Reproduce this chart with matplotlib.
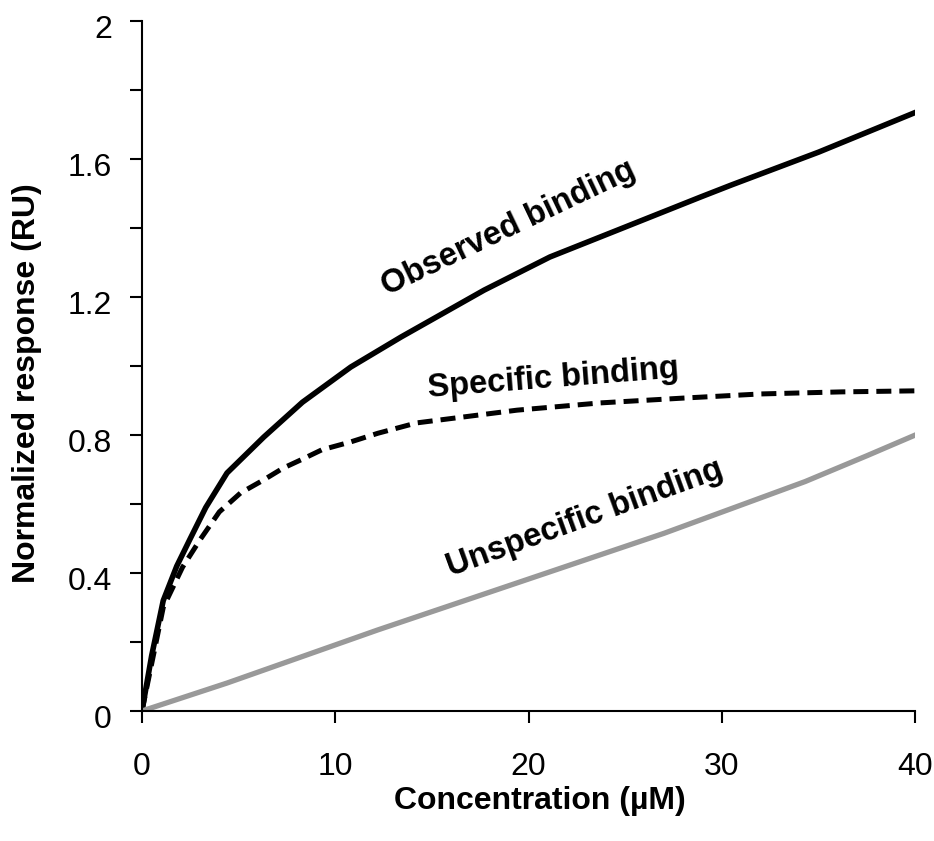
import matplotlib
matplotlib.use("Agg")
import matplotlib.pyplot as plt
import matplotlib.transforms as mtransforms
from matplotlib.ticker import MultipleLocator

plt.rcParams['font.family'] = ['Liberation Sans', 'DejaVu Sans']

# binding curves (concentration in uM, response in RU)
conc_obs = [0, 0.5, 1.1, 1.8, 2.5, 3.3, 4.4, 6.3, 8.3, 10.8, 13.4, 17.7, 21.1, 24.6, 28.9, 30.5, 35.0, 40.0]
observed = [0, 0.16, 0.32, 0.42, 0.50, 0.59, 0.69, 0.794, 0.895, 0.997, 1.084, 1.22, 1.316, 1.394, 1.49, 1.525, 1.62, 1.735]

conc_spec = [0, 1.1, 2.1, 3.0, 4.0, 5.1, 6.3, 7.3, 8.3, 9.3, 10.8, 12.2, 14.2, 19.4, 23.7, 28.0, 32.0, 36.2, 40.0]
specific = [0, 0.30, 0.417, 0.496, 0.577, 0.632, 0.67, 0.704, 0.73, 0.757, 0.78, 0.805, 0.835, 0.872, 0.893, 0.907, 0.919, 0.925, 0.928]

conc_unspec = [0, 4.4, 12.2, 19.6, 27.0, 34.3, 37.5, 40.0]
unspecific = [0, 0.081, 0.235, 0.375, 0.515, 0.665, 0.74, 0.80]

fig = plt.figure(figsize=(9.34, 8.41), dpi=100)
ax = fig.add_axes([0.152, 0.1546, 0.828, 0.8204])

ax.plot(conc_obs, observed, color='black', lw=4.0)
ax.plot(conc_spec, specific, color='black', lw=3.6, dashes=(3, 1.6))
ax.plot(conc_unspec, unspecific, color='#999999', lw=3.8)

ax.set_xlim(0, 40)
ax.set_ylim(0, 2)
ax.xaxis.set_major_locator(MultipleLocator(10))
ax.yaxis.set_minor_locator(MultipleLocator(0.2))
ax.set_yticks([0, 0.4, 0.8, 1.2, 1.6, 2])
ax.set_yticklabels(['0', '0.4', '0.8', '1.2', '1.6', '2'])

for s in ['top', 'right']:
    ax.spines[s].set_visible(False)
for s in ['left', 'bottom']:
    ax.spines[s].set_linewidth(1.5)

ax.tick_params(which='both', direction='out', length=8.6, width=1.5, labelsize=23)
ax.tick_params(axis='x', pad=21)
ax.tick_params(axis='y', pad=13)

# y tick labels sit a little below their ticks
shift = mtransforms.ScaledTranslation(0, -4 / 72, fig.dpi_scale_trans)
for lab in ax.get_yticklabels():
    lab.set_transform(lab.get_transform() + shift)

ax.set_xlabel('Concentration (µM)', fontsize=23, fontweight='bold')
ax.xaxis.set_label_coords(0.515, -0.109)
ax.set_ylabel('Normalized response (RU)', fontsize=23, fontweight='bold')
ax.yaxis.set_label_coords(-0.129, 0.475)

ax.text(18.95, 1.40, 'Observed binding', fontsize=23.5, fontweight='bold',
        rotation=25.5, ha='center', va='center')
ax.text(21.3, 0.964, 'Specific binding', fontsize=23.5, fontweight='bold',
        rotation=4.5, ha='center', va='center')
ax.text(22.9, 0.557, 'Unspecific binding', fontsize=23.5, fontweight='bold',
        rotation=20, ha='center', va='center')

fig.savefig('out.png', dpi=100)
